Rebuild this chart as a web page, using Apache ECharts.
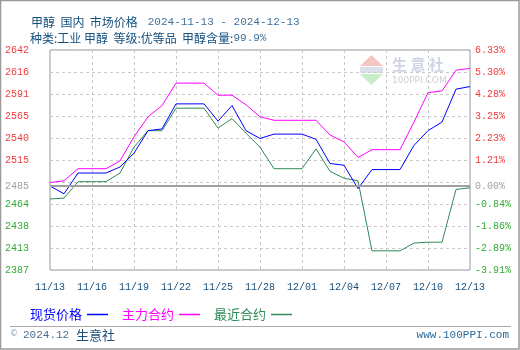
<!DOCTYPE html>
<html>
<head>
    <meta charset="utf-8" />
    <title>甲醇 国内 市场价格</title>
    <script src="https://cdn.jsdelivr.net/npm/echarts@6/dist/echarts.min.js"></script>
    <style>
        html, body { margin: 0; padding: 0; background: #fff; }
        #chart { width: 520px; height: 350px; }
    </style>
</head>
<body>
    <div id="chart"></div>
    <script type="text/javascript">
        const dates = ['11/13', '11/14', '11/15', '11/16', '11/17', '11/18', '11/19', '11/20', '11/21', '11/22',
            '11/23', '11/24', '11/25', '11/26', '11/27', '11/28', '11/29', '11/30', '12/01', '12/02',
            '12/03', '12/04', '12/05', '12/06', '12/07', '12/08', '12/09', '12/10', '12/11', '12/12', '12/13'];

        // 现货价格
        const spot = [2485, 2476, 2500, 2500, 2500, 2507, 2523, 2549, 2551, 2580,
            2580, 2580, 2560, 2578, 2549, 2540, 2545, 2545, 2545, 2539,
            2511, 2509, 2482, 2504, 2504, 2504, 2532, 2549, 2559, 2597, 2600];
        // 主力合约
        const mainContract = [2489, 2491, 2505, 2505, 2505, 2514, 2542, 2565, 2578, 2604,
            2604, 2604, 2590, 2590, 2579, 2565, 2561, 2561, 2561, 2561,
            2544, 2536, 2518, 2527, 2527, 2527, 2559, 2593, 2595, 2619, 2621];
        // 最近合约
        const nearContract = [2470, 2471, 2490, 2490, 2490, 2500, 2530, 2549, 2549, 2575,
            2575, 2575, 2552, 2563, 2546, 2530, 2505, 2505, 2505, 2528,
            2502, 2494, 2491, 2410, 2410, 2410, 2419, 2420, 2420, 2481, 2483];

        // tick labels, bottom to top (the middle one is replaced by the base line)
        const leftTicks = ['2387', '2413', '2438', '2464', '', '2515', '2540', '2565', '2591', '2616', '2642'];
        const rightTicks = ['-3.91%', '-2.89%', '-1.86%', '-0.84%', '', '1.21%', '2.23%', '3.25%', '4.28%', '5.30%', '6.33%'];
        const basePrice = 2485;
        const axisMin = 2387.84;
        const axisMax = 2642.30;

        const RED = '#f23a3a', GREEN = '#33aa33', GRAY = '#a0a0a0';
        const MONO = 'Liberation Mono';
        const CJK = 'Noto Sans CJK SC';

        const chart = echarts.init(document.getElementById('chart'));

        const titleRich = {
            a: { fontFamily: CJK, fontSize: 12, fontWeight: 'normal', color: '#14507e' },
            b: { fontFamily: MONO, fontSize: 11, fontWeight: 'normal', color: '#3f6f9a' }
        };

        const option = {
            animation: false,
            backgroundColor: '#fff',
            title: [
                {
                    left: 26, top: 8,
                    text: '{a|甲醇  国内  市场价格}  {b|2024-11-13 - 2024-12-13}',
                    textStyle: { fontWeight: 'normal', rich: titleRich }
                },
                {
                    left: 25, top: 27,
                    text: '{a|种类:工业 甲醇  等级:优等品  甲醇含量:}{b|99.9%}',
                    textStyle: { fontWeight: 'normal', rich: titleRich }
                }
            ],
            legend: {
                left: 25, top: 303,
                align: 'right',
                icon: 'rect',
                itemWidth: 21, itemHeight: 1.5,
                itemGap: 14,
                textStyle: { fontFamily: CJK, fontSize: 13 },
                data: [
                    { name: '现货价格', textStyle: { color: '#0000ff' } },
                    { name: '主力合约', textStyle: { color: '#ff00ff' } },
                    { name: '最近合约', textStyle: { color: '#2e8b57' } }
                ]
            },
            grid: {
                left: 50, right: 50, top: 50, bottom: 80,
                show: true, borderColor: '#999', borderWidth: 1
            },
            xAxis: {
                type: 'category',
                data: dates,
                boundaryGap: false,
                axisLine: { show: false },
                axisTick: { show: false },
                axisLabel: { interval: 2, margin: 12, color: '#1a4f7a', fontFamily: MONO, fontSize: 10 },
                splitLine: { show: true, interval: 2, lineStyle: { color: '#c8c8c8', type: [3, 3] } }
            },
            yAxis: [
                {
                    type: 'category', position: 'left', data: leftTicks, boundaryGap: false,
                    axisLine: { show: false }, axisTick: { show: false },
                    axisLabel: {
                        margin: 21, fontFamily: MONO, fontSize: 10, interval: 0,
                        color: (val) => (Number(val) < basePrice ? GREEN : RED)
                    },
                    splitLine: { show: true, interval: 0, lineStyle: { color: '#c8c8c8', type: [3, 3] } }
                },
                {
                    type: 'category', position: 'right', data: rightTicks, boundaryGap: false,
                    axisLine: { show: false }, axisTick: { show: false },
                    axisLabel: {
                        margin: 5, fontFamily: MONO, fontSize: 10, interval: 0,
                        color: (val) => (String(val).charAt(0) === '-' ? GREEN : RED)
                    },
                    splitLine: { show: false }
                },
                {
                    type: 'value', min: axisMin, max: axisMax, show: false
                }
            ],
            graphic: [
                // watermark
                { type: 'polygon', z: 0, shape: { points: [[360, 66], [371.5, 55], [383, 66]] }, style: { fill: '#f7c4c4' } },
                { type: 'rect', z: 0, shape: { x: 360, y: 67, width: 23, height: 6 }, style: { fill: '#dde0ea' } },
                { type: 'polygon', z: 0, shape: { points: [[360, 74], [371.5, 85], [383, 74]] }, style: { fill: '#c8ebc8' } },
                { type: 'text', z: 0, x: 392, y: 64, style: { text: '生 意 社', fontFamily: CJK, fontSize: 15, fontWeight: 'bold', fill: '#cfd5e4', verticalAlign: 'middle' } },
                { type: 'text', z: 0, x: 392, y: 81, style: { text: '100PPI.COM', fontFamily: 'DejaVu Sans', fontSize: 9, fill: '#d0d0d0', verticalAlign: 'middle' } },
                // footer
                { type: 'line', shape: { x1: 10, y1: 326.5, x2: 511, y2: 326.5 }, style: { stroke: '#aaa', lineWidth: 1 } },
                { type: 'text', x: 10, y: 334, style: { text: '©', fontFamily: 'DejaVu Sans', fontSize: 8, fill: '#8aa0b8', verticalAlign: 'middle' } },
                { type: 'text', x: 23, y: 335, style: { text: '2024.12', fontFamily: MONO, fontSize: 11, fill: '#4a6f90', verticalAlign: 'middle' } },
                { type: 'text', x: 76, y: 335, style: { text: '生意社', fontFamily: CJK, fontSize: 13, fill: '#1a4f7a', verticalAlign: 'middle' } },
                { type: 'text', x: 509, y: 335, style: { text: 'www.100PPI.com', fontFamily: MONO, fontSize: 11, fill: '#2a6a9a', align: 'right', verticalAlign: 'middle' } },
                // outer frame
                { type: 'rect', shape: { x: 0.5, y: 0.5, width: 518.5, height: 348.5 }, style: { fill: 'none', stroke: '#999', lineWidth: 1.5 } }
            ],
            series: [
                {
                    name: '现货价格', type: 'line', yAxisIndex: 2, data: spot,
                    symbol: 'none', color: '#0000ff', lineStyle: { width: 1 }, z: 4,
                    markLine: {
                        silent: true, symbol: 'none',
                        lineStyle: { color: GRAY, width: 2, type: 'solid' },
                        label: { color: GRAY, fontFamily: MONO, fontSize: 10 },
                        data: [
                            { yAxis: basePrice, label: { position: 'start', distance: 21, formatter: String(basePrice) } },
                            { yAxis: basePrice, label: { position: 'end', distance: 5, formatter: '0.00%' } }
                        ]
                    }
                },
                {
                    name: '主力合约', type: 'line', yAxisIndex: 2, data: mainContract,
                    symbol: 'none', color: '#ff00ff', lineStyle: { width: 1 }, z: 3
                },
                {
                    name: '最近合约', type: 'line', yAxisIndex: 2, data: nearContract,
                    symbol: 'none', color: '#2e8b57', lineStyle: { width: 1 }, z: 2
                }
            ]
        };

        chart.setOption(option);
    </script>
</body>
</html>
